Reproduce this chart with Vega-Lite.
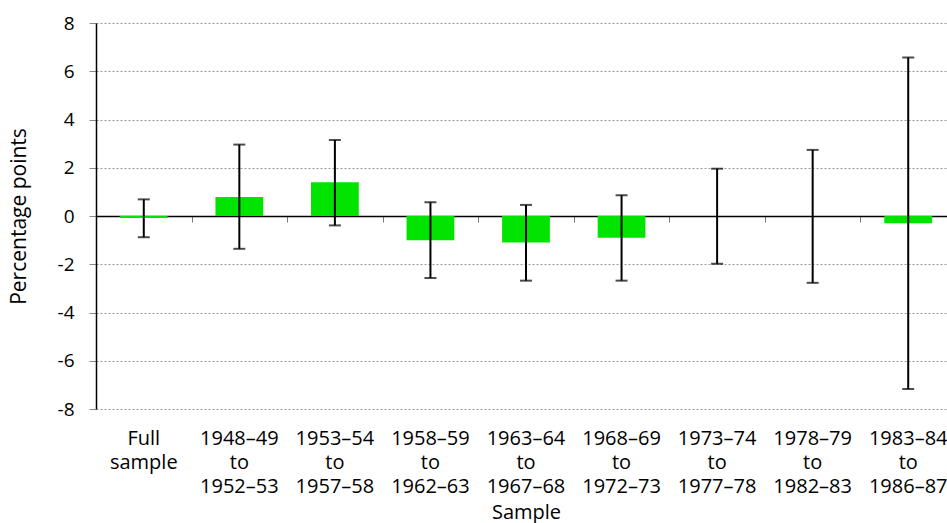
{
  "$schema": "https://vega.github.io/schema/vega-lite/v6.json",
  "autosize": "none",
  "padding": {"left": 96, "top": 23, "right": 0, "bottom": 114},
  "width": 860,
  "height": 386,
  "background": "white",
  "config": {
    "font": "Open Sans",
    "view": {"stroke": null}
  },
  "data": {
    "values": [
      {"sample": "Full sample", "value": -0.08, "low": -0.88, "high": 0.69},
      {"sample": "1948–49 to 1952–53", "value": 0.79, "low": -1.36, "high": 2.96},
      {"sample": "1953–54 to 1957–58", "value": 1.40, "low": -0.39, "high": 3.15},
      {"sample": "1958–59 to 1962–63", "value": -1.0, "low": -2.57, "high": 0.57},
      {"sample": "1963–64 to 1967–68", "value": -1.1, "low": -2.68, "high": 0.46},
      {"sample": "1968–69 to 1972–73", "value": -0.9, "low": -2.68, "high": 0.86},
      {"sample": "1973–74 to 1977–78", "value": 0, "low": -1.98, "high": 1.96},
      {"sample": "1978–79 to 1982–83", "value": 0, "low": -2.77, "high": 2.74},
      {"sample": "1983–84 to 1986–87", "value": -0.3, "low": -7.17, "high": 6.57}
    ]
  },
  "resolve": {"axis": {"x": "independent"}},
  "layer": [
    {
      "mark": {"type": "bar", "color": "#00E400", "width": {"band": 0.5}},
      "encoding": {
        "x": {
          "field": "sample", "type": "nominal", "sort": null,
          "scale": {"paddingInner": 0, "paddingOuter": 0},
          "axis": {
            "orient": "bottom", "offset": -193, "labels": false, "title": null,
            "domain": true, "domainColor": "#000000", "domainWidth": 1.5,
            "ticks": true, "tickBand": "extent", "tickSize": 6, "tickColor": "#777777", "tickWidth": 1,
            "grid": false
          }
        },
        "y": {
          "field": "value", "type": "quantitative",
          "scale": {"domain": [-8, 8], "nice": false},
          "axis": {
            "values": [-8, -6, -4, -2, 0, 2, 4, 6, 8],
            "labelExpr": "datum.value < 0 ? '-' + abs(datum.value) : '' + datum.value",
            "title": "Percentage points", "titleFontSize": 21, "titleFontWeight": "normal",
            "titleColor": "#000000", "titlePadding": 28,
            "labelFontSize": 19, "labelColor": "#000000", "labelPadding": 15,
            "domainColor": "#000000", "domainWidth": 1.5,
            "tickColor": "#888888", "tickSize": 7, "tickWidth": 1,
            "grid": true, "gridColor": "#999999", "gridDash": [2, 2], "gridWidth": 1
          }
        }
      }
    },
    {
      "mark": {"type": "rule", "color": "#000000", "strokeWidth": 2},
      "encoding": {
        "x": {
          "field": "sample", "type": "nominal", "sort": null,
          "axis": {
            "orient": "bottom", "domain": false, "ticks": false, "grid": false,
            "labelAngle": 0, "labelFontSize": 20, "labelColor": "#000000",
            "labelExpr": "split(datum.label, ' ')", "labelLineHeight": 24,
            "labelPadding": 19, "labelOverlap": false, "labelLimit": 0,
            "title": "Sample", "titleFontSize": 20, "titleFontWeight": "normal",
            "titleColor": "#000000", "titlePadding": 6
          }
        },
        "y": {"field": "low", "type": "quantitative"},
        "y2": {"field": "high"}
      }
    },
    {
      "mark": {"type": "tick", "color": "#000000", "size": 12, "thickness": 2},
      "encoding": {
        "x": {"field": "sample", "type": "nominal", "sort": null, "axis": null},
        "y": {"field": "low", "type": "quantitative"}
      }
    },
    {
      "mark": {"type": "tick", "color": "#000000", "size": 12, "thickness": 2},
      "encoding": {
        "x": {"field": "sample", "type": "nominal", "sort": null, "axis": null},
        "y": {"field": "high", "type": "quantitative"}
      }
    }
  ]
}
